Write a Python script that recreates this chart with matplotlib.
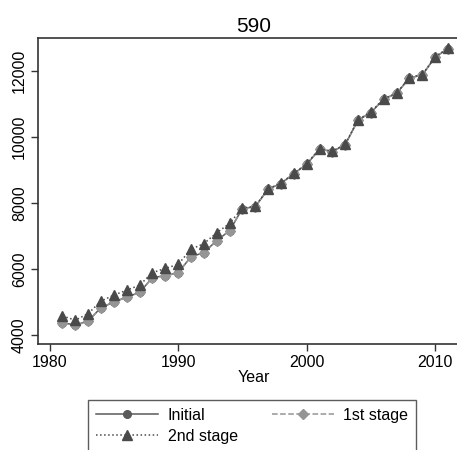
import matplotlib.pyplot as plt

plt.rcParams['font.family'] = ['Liberation Sans', 'DejaVu Sans']

# Data
years = list(range(1981, 2012))

initial = [4380, 4300, 4430, 4830, 5000, 5150, 5290, 5740, 5800, 5890,
           6370, 6500, 6860, 7160, 7830, 7890, 8420, 8590, 8890, 9170,
           9630, 9560, 9770, 10510, 10740, 11150, 11320, 11790, 11880, 12420,
           12680]
stage1 = [4370, 4290, 4420, 4830, 5000, 5150, 5290, 5740, 5790, 5890,
          6370, 6500, 6860, 7160, 7830, 7890, 8420, 8590, 8890, 9170,
          9630, 9560, 9770, 10510, 10740, 11150, 11320, 11790, 11880, 12420,
          12680]
stage2 = [4580, 4450, 4650, 5030, 5210, 5360, 5510, 5890, 6020, 6140,
          6600, 6770, 7100, 7380, 7850, 7900, 8430, 8600, 8900, 9190,
          9640, 9570, 9780, 10530, 10760, 11160, 11330, 11800, 11890, 12430,
          12690]

xticks = [1980, 1990, 2000, 2010]
yticks = [4000, 6000, 8000, 10000, 12000]

fig = plt.figure(figsize=(4.57, 4.5), dpi=100)
ax = fig.add_axes([0.0832, 0.2356, 0.945, 0.68])

l1, = ax.plot(years, initial, color="#5a5a5a", linestyle="-", linewidth=1.1,
              marker="o", markersize=5.5, label="Initial")
l2, = ax.plot(years, stage1, color="#959595", linestyle="--", linewidth=1.1,
              marker="D", markersize=5.5, label="1st stage")
l3, = ax.plot(years, stage2, color="#4a4a4a", linestyle=":", linewidth=1.1,
              marker="^", markersize=6.5, label="2nd stage")

ax.set_xlim(1979.1, 2012.7)
ax.set_ylim(3730, 13000)
ax.set_xticks(xticks)
ax.set_yticks(yticks)
ax.set_yticklabels([str(t) for t in yticks], rotation=90, va="center")
ax.tick_params(labelsize=11.5, length=5, width=1, color="#333333", pad=3)
ax.set_xlabel("Year", fontsize=11.5, labelpad=0)
ax.set_title("590", fontsize=15, pad=4)

for side in ["left", "top", "bottom"]:
    ax.spines[side].set_color("#333333")
    ax.spines[side].set_linewidth(1.2)
ax.spines["right"].set_visible(False)

# column-major fill: put handles so rows read Initial / 1st stage, then 2nd stage
leg = fig.legend([l1, l3, l2], ["Initial", "2nd stage", "1st stage"],
                 loc="upper left", bbox_to_anchor=(88 / 457, 1 - 400 / 450),
                 ncol=2, fontsize=11.5, frameon=True, fancybox=False,
                 handlelength=3.9, handletextpad=0.6, columnspacing=2.1,
                 borderpad=0.5, labelspacing=0.35, borderaxespad=0)
leg.get_frame().set_edgecolor("#333333")
leg.get_frame().set_linewidth(1.0)

fig.savefig("out.png", dpi=100)
